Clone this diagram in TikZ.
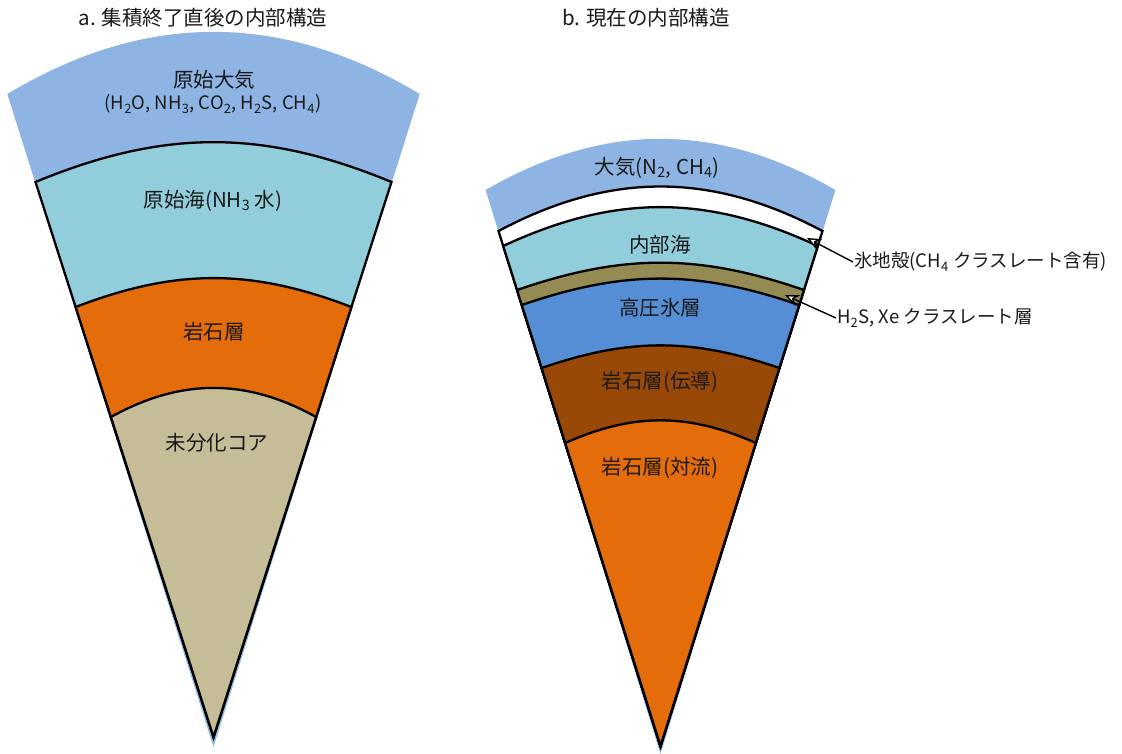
\documentclass[tikz,border=0pt]{standalone}
\usepackage{fontspec}
\setmainfont{Noto Sans CJK JP}
\usetikzlibrary{arrows.meta}

\definecolor{atmoblue}{HTML}{8EB4E3}
\definecolor{seablue}{HTML}{92CDDC}
\definecolor{rockorange}{HTML}{E46C0A}
\definecolor{corekhaki}{HTML}{C4BD97}
\definecolor{clathrate}{HTML}{948A54}
\definecolor{iceblue}{HTML}{558ED5}
\definecolor{rockbrown}{HTML}{984807}
\definecolor{labeltext}{HTML}{1A1A1A}

\begin{document}
\begin{tikzpicture}[x=1pt, y=1pt,
    layer/.style={draw=black, line width=2.3pt},
    lbl/.style={text=labeltext, font=\fontsize{20.5}{24}\selectfont, inner sep=1pt},
    small/.style={text=labeltext, font=\fontsize{18.5}{22}\selectfont, inner sep=1pt},
    pointer/.style={line width=1.4pt, -{Stealth[open, length=14pt, width=12pt, fill=white]}}]
  \useasboundingbox (0,0) rectangle (1122,-753);

  % a. just after accretion
  \fill[atmoblue] (7.3,-94) to[bend left=31] (419.7,-94) -- (213.5,-747) -- cycle;
  \filldraw[layer, fill=seablue] (35.5,-182) to[bend left=22.5] (391.5,-182) -- (213.5,-737) -- cycle;
  \filldraw[layer, fill=rockorange] (75.6,-307) to[bend left=21] (351.4,-307) -- (213.5,-737) -- cycle;
  \filldraw[layer, fill=corekhaki] (110.9,-417) to[bend left=29] (316.1,-417) -- (213.5,-737) -- cycle;

  \node[lbl] (titleA) at (203,-18) {a. 集積終了直後の内部構造};
  \node[lbl] (atmoA) at (214,-80) {原始大気};
  \node[small] (gasA) at (213,-104) {(H\textsubscript{2}O, NH\textsubscript{3}, CO\textsubscript{2}, H\textsubscript{2}S, CH\textsubscript{4})};
  \node[lbl] (seaA) at (213,-201) {原始海(NH\textsubscript{3} 水)};
  \node[lbl] (rockA) at (214,-332) {岩石層};
  \node[lbl] (coreA) at (217,-443) {未分化コア};

  % b. present day
  \fill[atmoblue] (485.6,-190) to[bend left=30] (835.4,-190) -- (660.5,-754) -- cycle;
  \filldraw[layer, fill=white] (498.5,-231) to[bend left=28] (822.5,-231) -- (660.5,-746) -- cycle;
  \filldraw[layer, fill=seablue] (503.2,-246) to[bend left=25] (817.8,-246) -- (660.5,-746) -- cycle;
  \filldraw[layer, fill=clathrate] (517,-290) to[bend left=19] (804,-290) -- (660.5,-746) -- cycle;
  \filldraw[layer, fill=iceblue] (521.8,-305) to[bend left=19] (799.2,-305) -- (660.5,-746) -- cycle;
  \filldraw[layer, fill=rockbrown] (541.6,-368) to[bend left=19] (779.4,-368) -- (660.5,-746) -- cycle;
  \filldraw[layer, fill=rockorange] (565.2,-443) to[bend left=24] (755.8,-443) -- (660.5,-746) -- cycle;

  \node[lbl] (titleB) at (646,-18) {b. 現在の内部構造};
  \node[lbl] (atmoB) at (657,-168) {大気(N\textsubscript{2}, CH\textsubscript{4})};
  \node[lbl] (seaB) at (660,-245) {内部海};
  \node[lbl] (iceB) at (660,-308) {高圧氷層};
  \node[lbl] (condB) at (660,-382) {岩石層(伝導)};
  \node[lbl] (convB) at (660,-468) {岩石層(対流)};

  % labels pointing at the thin shells
  \node[small, anchor=west] (crust) at (853,-262) {氷地殻(CH\textsubscript{4} クラスレート含有)};
  \node[small, anchor=west] (clath) at (836,-318) {H\textsubscript{2}S, Xe クラスレート層};
  \coordinate (crusttip) at (807,-238);
  \coordinate (clathtip) at (785,-295);
  \draw[pointer] (crust.west) -- (crusttip);
  \draw[pointer] (clath.west) -- (clathtip);
\end{tikzpicture}
\end{document}
